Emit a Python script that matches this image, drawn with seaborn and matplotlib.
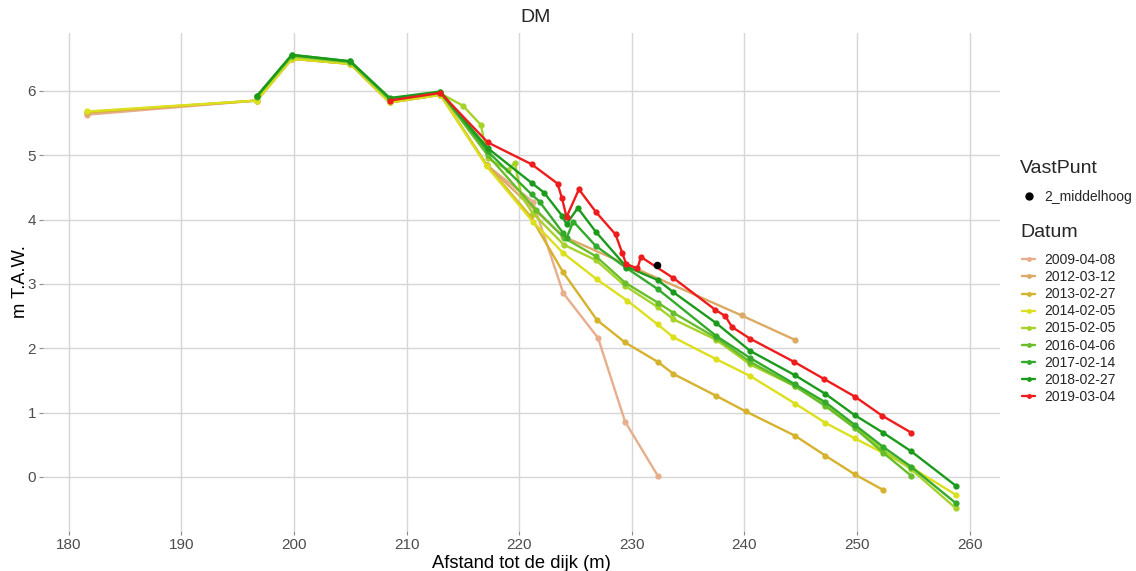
import pandas as pd
import matplotlib.pyplot as plt
from matplotlib.lines import Line2D
import seaborn as sns

# profile per survey date: distance to dike (m) and height (m T.A.W.)
dates = ["2009-04-08", "2012-03-12", "2013-02-27", "2014-02-05", "2015-02-05",
         "2016-04-06", "2017-02-14", "2018-02-27", "2019-03-04"]

x_2009 = [181.6, 196.7, 199.8, 205.0, 208.5, 213.0, 217.1, 221.2, 223.9, 227.0, 229.4, 232.3]
y_2009 = [5.63, 5.85, 6.50, 6.42, 5.82, 5.94, 4.85, 4.28, 2.86, 2.16, 0.86, 0.02]

x_2012 = [181.6, 196.7, 199.8, 205.0, 208.5, 213.0, 217.1, 223.9, 239.75, 244.5]
y_2012 = [5.66, 5.85, 6.50, 6.42, 5.82, 5.94, 4.85, 3.74, 2.51, 2.13]

x_2013 = [181.6, 196.7, 199.8, 205.0, 208.5, 213.0, 217.1, 221.0, 223.9, 226.9, 229.4,
          232.3, 233.7, 237.5, 240.1, 244.5, 247.2, 249.8, 252.3]
y_2013 = [5.67, 5.85, 6.50, 6.42, 5.82, 5.94, 4.85, 4.05, 3.18, 2.44, 2.09,
          1.79, 1.60, 1.26, 1.02, 0.64, 0.33, 0.04, -0.20]

x_2014 = [181.6, 196.7, 199.8, 205.0, 208.5, 213.0, 217.1, 221.2, 223.9, 226.9, 229.6,
          232.3, 233.7, 237.5, 240.5, 244.5, 247.2, 249.8, 254.9, 258.8]
y_2014 = [5.68, 5.85, 6.50, 6.42, 5.82, 5.94, 4.83, 3.97, 3.48, 3.07, 2.74,
          2.37, 2.17, 1.83, 1.57, 1.14, 0.84, 0.60, 0.14, -0.28]

x_2015 = [196.7, 199.8, 205.0, 208.5, 213.0, 215.0, 216.6, 217.2, 219.0, 219.6, 220.2,
          221.2, 223.95, 226.8, 229.4, 232.3, 233.7, 237.5, 240.5, 244.5, 247.2,
          249.8, 252.3, 254.8, 258.8]
y_2015 = [5.90, 6.53, 6.44, 5.85, 5.96, 5.77, 5.47, 4.95, 4.77, 4.88, 4.36,
          4.10, 3.61, 3.37, 2.97, 2.64, 2.45, 2.13, 1.75, 1.41, 1.12,
          0.78, 0.42, 0.12, -0.49]

x_2016 = [196.7, 199.8, 205.0, 208.5, 213.0, 217.2, 221.5, 223.95, 226.8, 229.4, 232.3,
          233.7, 237.5, 240.5, 244.5, 247.2, 249.8, 252.3, 254.8]
y_2016 = [5.91, 6.55, 6.45, 5.87, 5.97, 5.00, 4.15, 3.72, 3.43, 3.02, 2.71,
          2.55, 2.16, 1.79, 1.41, 1.10, 0.76, 0.38, 0.02]

x_2017 = [196.7, 199.8, 205.0, 208.5, 213.0, 217.2, 221.1, 221.8, 223.9, 224.2, 224.8,
          226.8, 229.5, 232.3, 237.5, 240.5, 244.5, 247.2, 249.8, 252.3, 254.8, 258.8]
y_2017 = [5.92, 6.56, 6.46, 5.88, 5.98, 5.06, 4.39, 4.28, 3.79, 3.71, 3.97,
          3.59, 3.25, 2.92, 2.19, 1.85, 1.44, 1.16, 0.81, 0.47, 0.16, -0.41]

x_2018 = [196.7, 199.8, 205.0, 208.5, 213.0, 217.2, 221.1, 222.2, 223.8, 224.2, 225.2,
          226.8, 229.5, 232.3, 233.7, 237.5, 240.5, 244.5, 247.2, 249.8, 252.3, 254.8, 258.8]
y_2018 = [5.92, 6.56, 6.46, 5.89, 5.99, 5.11, 4.57, 4.42, 4.06, 3.93, 4.18,
          3.81, 3.27, 3.06, 2.87, 2.39, 1.96, 1.58, 1.29, 0.96, 0.69, 0.40, -0.14]

x_2019 = [208.5, 213.0, 217.2, 221.1, 223.4, 223.8, 224.2, 225.3, 226.8, 228.55, 229.15,
          229.5, 230.5, 230.8, 233.7, 237.4, 238.3, 238.9, 240.5, 244.4, 247.1, 249.8,
          252.25, 254.8]
y_2019 = [5.85, 5.97, 5.20, 4.86, 4.56, 4.33, 4.04, 4.47, 4.12, 3.77, 3.48,
          3.31, 3.24, 3.42, 3.09, 2.60, 2.50, 2.33, 2.15, 1.79, 1.52, 1.25,
          0.95, 0.69]

vast_x = [232.2]
vast_y = [3.29]
vast_label = "2_middelhoog"

colors = ["#E8AE8C", "#DCAA64", "#D6B22E", "#DCE01C", "#A6D22A",
          "#68BE2A", "#34AA2C", "#1C9A1C", "#EE1C1C"]

xs = [x_2009, x_2012, x_2013, x_2014, x_2015, x_2016, x_2017, x_2018, x_2019]
ys = [y_2009, y_2012, y_2013, y_2014, y_2015, y_2016, y_2017, y_2018, y_2019]

frames = []
for d, xv, yv in zip(dates, xs, ys):
    frames.append(pd.DataFrame({"afstand": xv, "hoogte": yv, "Datum": d}))
df = pd.concat(frames, ignore_index=True)
palette = dict(zip(dates, colors))

sns.set_theme(style="white")
plt.rcParams["font.family"] = ["Liberation Sans", "DejaVu Sans"]

fig = plt.figure(figsize=(11.36, 5.71), dpi=100)
ax = fig.add_axes([43 / 1136, 1 - 531 / 571, (1000 - 43) / 1136, (531 - 33) / 571])

sns.lineplot(data=df, x="afstand", y="hoogte", hue="Datum", hue_order=dates,
             palette=palette, sort=False, estimator=None, marker="o",
             markersize=4.5, markeredgewidth=0, linewidth=1.7, legend=False, ax=ax)
ax.scatter(vast_x, vast_y, color="black", s=30, zorder=5, linewidths=0)

ax.set_xlim(177.7, 262.7)
ax.set_ylim(-0.84, 6.9)
ax.set_xticks(range(180, 261, 10))
ax.set_yticks(range(0, 7))
ax.grid(True, color="#D6D6D6", linewidth=1.0)
ax.set_axisbelow(True)
for s in ax.spines.values():
    s.set_visible(False)
ax.tick_params(axis="both", colors="#8A8A8A", labelcolor="#4D4D4D", labelsize=11,
               length=3, width=0.8, pad=2, left=True, bottom=True)

ax.set_xlabel("Afstand tot de dijk (m)", fontsize=13.2, color="black", labelpad=2)
ax.set_ylabel("m T.A.W.", fontsize=13.2, color="black", labelpad=-1)
fig.text(536 / 1136, 1 - 18 / 571, "DM", ha="center", va="center", fontsize=14)

# legend titles as plain text, legend bodies placed by their centre
fig.text(1020 / 1136, 1 - 168 / 571, "VastPunt", ha="left", va="center", fontsize=14)
fig.text(1020 / 1136, 1 - 233 / 571, "Datum", ha="left", va="center", fontsize=14)

h_vast = [Line2D([], [], marker="o", color="black", linestyle="", markersize=5)]
leg1 = fig.legend(h_vast, [vast_label], loc="center left",
                  bbox_to_anchor=(1016 / 1136, 1 - 197 / 571), frameon=False,
                  fontsize=10, handlelength=1.0, handletextpad=0.65,
                  borderaxespad=0)
h_dates = [Line2D([], [], color=c, marker="o", markersize=3.5, linewidth=1.7,
                  markeredgewidth=0) for c in colors]
leg2 = fig.legend(h_dates, dates, loc="center left",
                  bbox_to_anchor=(1016 / 1136, 1 - 328.5 / 571), frameon=False,
                  fontsize=10, handlelength=1.0, handletextpad=0.65,
                  labelspacing=0.22, borderaxespad=0)

fig.savefig("out.png", dpi=100)
